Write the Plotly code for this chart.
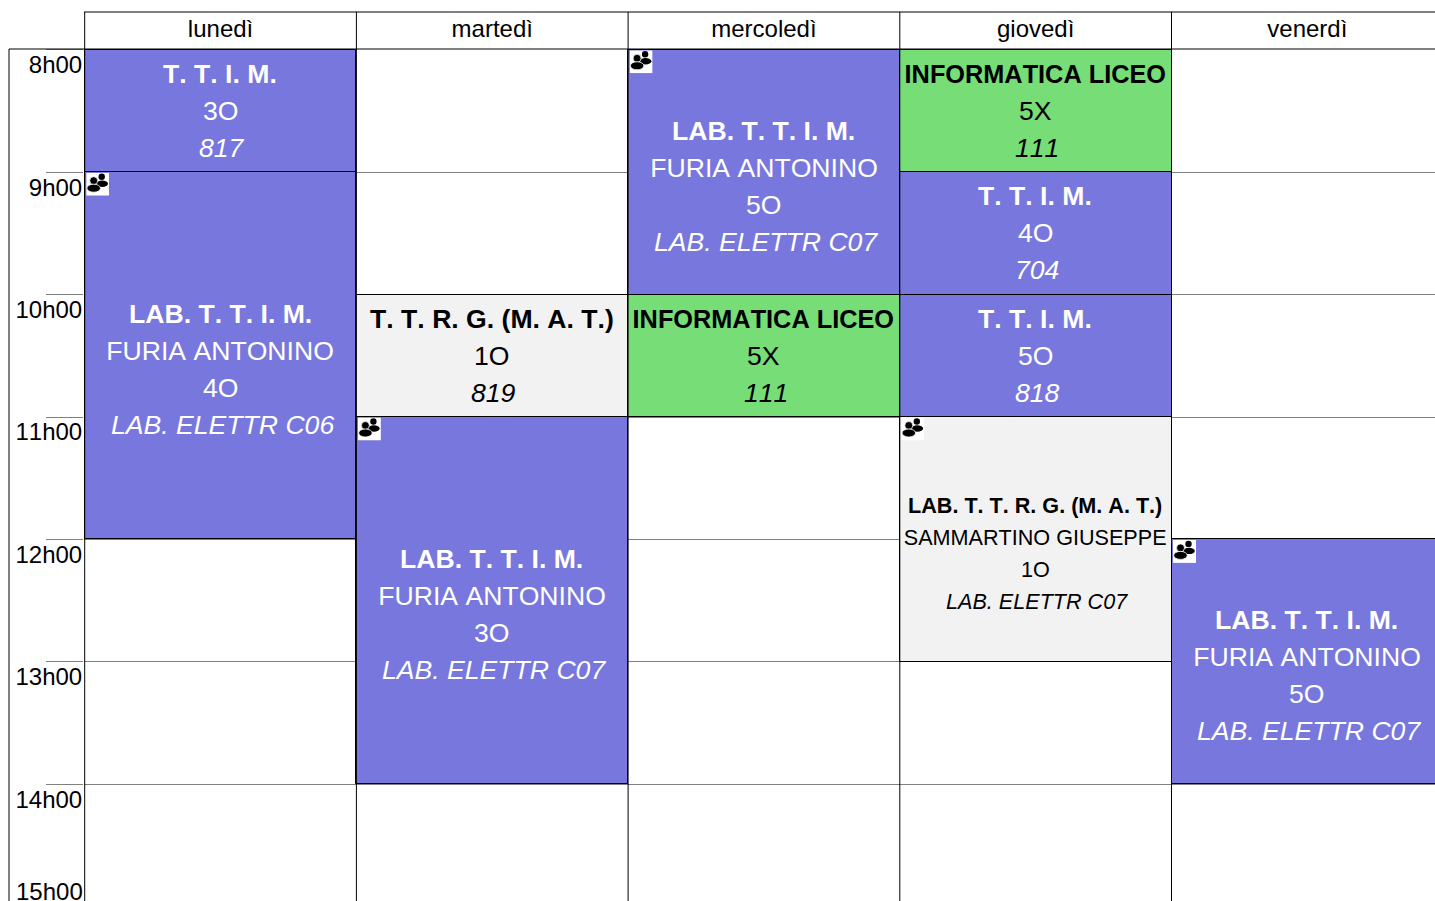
import base64
import plotly.graph_objects as go

days = ["lunedì", "martedì", "mercoledì", "giovedì", "venerdì"]
hours = [8, 9, 10, 11, 12, 13, 14]
hour_labels = ["8h00", "9h00", "10h00", "11h00", "12h00", "13h00", "14h00"]

lesson_day = [0, 0, 1, 1, 2, 2, 3, 3, 3, 3, 4]
lesson_start = [8, 9, 10, 11, 8, 10, 8, 9, 10, 11, 12]
lesson_hours = [1, 3, 1, 3, 2, 1, 1, 1, 1, 2, 2]
lesson_kind = ["ttim", "ttim", "grey", "ttim", "ttim", "green", "green", "ttim", "ttim", "grey", "ttim"]
lesson_title = ["T. T. I. M.", "LAB. T. T. I. M.", "T. T. R. G. (M. A. T.)", "LAB. T. T. I. M.",
                "LAB. T. T. I. M.", "INFORMATICA LICEO", "INFORMATICA LICEO", "T. T. I. M.",
                "T. T. I. M.", "LAB. T. T. R. G. (M. A. T.)", "LAB. T. T. I. M."]
lesson_teacher = ["", "FURIA ANTONINO", "", "FURIA ANTONINO", "FURIA ANTONINO", "", "", "", "",
                  "SAMMARTINO GIUSEPPE", "FURIA ANTONINO"]
lesson_class = ["3O", "4O", "1O", "3O", "5O", "5X", "5X", "4O", "5O", "1O", "5O"]
lesson_room = ["817", "LAB. ELETTR C06", "819", "LAB. ELETTR C07", "LAB. ELETTR C07", "111", "111",
               "704", "818", "LAB. ELETTR C07", "LAB. ELETTR C07"]

W, H = 1435, 901
LEFT, TOP = 84, 49
SUB_X, SUB_Y = 0.7, 0.8
COL_W, HOUR_H = 271.7, 122.4

FILL = {"ttim": "#7777DD", "green": "#77DD77", "grey": "#F2F2F2"}
INK = {"ttim": "#FFFFFF", "green": "#000000", "grey": "#000000"}
FONT = "Liberation Sans, Arial, sans-serif"

x_start = -0.5 - SUB_X / COL_W
x_range = [x_start, x_start + (W - LEFT) / COL_W]
y_start = 8 - SUB_Y / HOUR_H
y_range = [y_start + (H - TOP) / HOUR_H, y_start]

fig = go.Figure(go.Bar(
    x=lesson_day,
    y=lesson_hours,
    base=lesson_start,
    width=1,
    marker=dict(color=[FILL[k] for k in lesson_kind], line=dict(color="#000000", width=1)),
    hoverinfo="skip",
    showlegend=False,
))

annotations = []
images = []
icon_svg = (
    '<svg xmlns="http://www.w3.org/2000/svg" viewBox="0 0 23 23">'
    '<rect width="23" height="23" fill="#fff"/>'
    '<circle cx="15.500" cy="4" r="3.200"/><ellipse cx="16" cy="11" rx="5.800" ry="3.200"/>'
    '<g stroke="#fff" stroke-width="0.8"><circle cx="7.500" cy="8" r="4"/>'
    '<ellipse cx="7.500" cy="15.500" rx="6.800" ry="4"/></g>'
    "</svg>"
)
icon_uri = "data:image/svg+xml;base64," + base64.b64encode(icon_svg.encode()).decode()

for i, day in enumerate(lesson_day):
    mid = lesson_start[i] + lesson_hours[i] / 2
    has_icon = lesson_hours[i] > 1
    small = len(lesson_teacher[i]) > 16
    size = 21.6 if small else 26.6
    title_size = 25.3 if len(lesson_title[i]) == 17 else size
    pitch = 32 if small else 37
    rows = [(f"<b>{lesson_title[i]}</b>", -0.4, title_size)]
    if lesson_teacher[i]:
        rows.append((lesson_teacher[i], -0.4, size))
    rows.append((lesson_class[i], -0.4, size))
    rows.append((f"<i>{lesson_room[i]}</i>", 1.6, size))
    offset = 14 if has_icon else 0
    for n, (txt, dx, fs) in enumerate(rows):
        annotations.append(dict(
            x=day, y=mid, xref="x", yref="y", text=txt, showarrow=False,
            xanchor="center", yanchor="middle", xshift=dx,
            yshift=-(offset + (n - (len(rows) - 1) / 2) * pitch),
            font=dict(family=FONT, size=fs, color=INK[lesson_kind[i]]),
        ))
    if has_icon:
        images.append(dict(
            source=icon_uri, xref="x", yref="y", x=day - 0.5 + 1.5 / COL_W,
            y=lesson_start[i] + 0.5 / HOUR_H, sizex=23 / COL_W, sizey=23 / HOUR_H,
            xanchor="left", yanchor="top", sizing="stretch", layer="above",
        ))

annotations.append(dict(
    x=0, xref="paper", xanchor="right", xshift=1, y=14.75, yref="y", yanchor="middle", yshift=-15,
    text="15h00", showarrow=False, font=dict(family=FONT, size=24, color="#000000"),
))

HEAD_Y = (H - 12) / (H - TOP)
FRAME_X = (9 - LEFT) / (W - LEFT)
shapes = [
    dict(type="line", xref="paper", yref="paper", x0=0, x1=1, y0=HEAD_Y, y1=HEAD_Y,
         line=dict(color="#000000", width=1)),
    dict(type="line", xref="paper", yref="paper", x0=FRAME_X, x1=1, y0=1, y1=1,
         line=dict(color="#000000", width=1)),
    dict(type="line", xref="paper", yref="paper", x0=FRAME_X, x1=FRAME_X, y0=0, y1=1,
         line=dict(color="#000000", width=1)),
]
for c in range(5):
    shapes.append(dict(type="line", xref="x", yref="paper", x0=c - 0.5, x1=c - 0.5, y0=0,
                       y1=HEAD_Y, line=dict(color="#000000", width=1)))

fig.update_layout(
    width=W, height=H, autosize=False,
    margin=dict(l=LEFT, t=TOP, r=0, b=0, pad=0),
    paper_bgcolor="#FFFFFF", plot_bgcolor="#FFFFFF",
    showlegend=False, annotations=annotations, images=images, shapes=shapes,
    bargap=0,
    xaxis=dict(
        range=x_range, side="top", tickmode="array", tickvals=list(range(5)), ticktext=days,
        showgrid=False, zeroline=False, showline=False, ticks="",
        tickfont=dict(family=FONT, size=24, color="#000000"),
        ticklabelstandoff=6,
    ),
    yaxis=dict(
        range=y_range, tickmode="array", tickvals=hours, ticktext=hour_labels,
        showgrid=True, gridcolor="#808080", gridwidth=1, zeroline=False, showline=False,
        ticks="outside", ticklen=37, tickcolor="#808080", tickwidth=1,
        ticklabelstandoff=-41, ticklabelshift=-15,
        tickfont=dict(family=FONT, size=24, color="#000000"),
    ),
)

fig.write_html(
    "out.html",
    config={"displayModeBar": False},
    post_script=(
        "document.body.style.margin='0';document.documentElement.style.overflow='hidden';"
        "var s=document.createElement('style');"
        "s.textContent='svg text{font-kerning:none !important;}';"
        "document.head.appendChild(s);"
    ),
)
